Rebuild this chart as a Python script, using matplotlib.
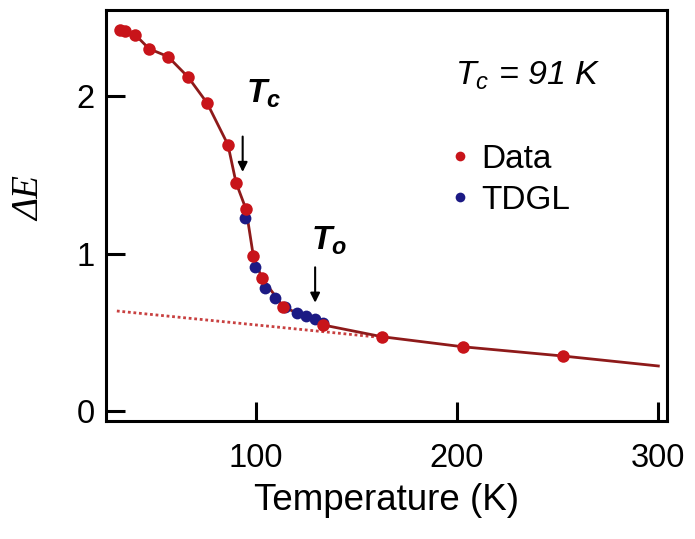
import matplotlib
matplotlib.use("Agg")
import matplotlib.pyplot as plt
from matplotlib.lines import Line2D

plt.rcParams['font.family'] = ['Liberation Sans', 'DejaVu Sans']
plt.rcParams['mathtext.fontset'] = 'custom'
plt.rcParams['mathtext.it'] = 'Liberation Sans:italic'
plt.rcParams['mathtext.bf'] = 'Liberation Sans:italic:bold'
plt.rcParams['mathtext.rm'] = 'Liberation Sans'

# measured gap values (red) and TDGL fit points (blue)
data_T = [32.6, 35.1, 40.0, 47.0, 56.4, 66.4, 75.8, 86.2, 90.2, 95.2,
          98.8, 103.0, 113.7, 133.6, 162.6, 202.8, 252.8]
data_E = [2.42, 2.41, 2.39, 2.30, 2.25, 2.12, 1.956, 1.69, 1.45, 1.28,
          0.984, 0.845, 0.662, 0.546, 0.472, 0.408, 0.349]

tdgl_T = [94.7, 99.7, 104.6, 109.6, 114.6, 120.4, 125.0, 129.5, 133.4]
tdgl_E = [1.223, 0.916, 0.779, 0.716, 0.662, 0.620, 0.603, 0.582, 0.561]

# guide line through the data, running on to 300 K
line_T = data_T + [300.0]
line_E = data_E + [0.286]

# linear background extrapolated to low T
bg_T = [31.0, 160.0]
bg_E = [0.635, 0.470]

Tc = 91
Tc_arrow = 93.5
To_arrow = 129.5

fig = plt.figure(figsize=(6.95, 5.39), dpi=100)
ax = fig.add_axes([0.1525, 0.219, 0.8072, 0.7625])

ax.plot(bg_T, bg_E, linestyle=(0, (1, 1)), color='#c84040', lw=2, zorder=1)
ax.plot(line_T, line_E, color='#8e1a1a', lw=2, zorder=2)
ax.plot(tdgl_T, tdgl_E, 'o', color='#1c1a84', ms=8.5, mec='none', zorder=3)
ax.plot(data_T, data_E, 'o', color='#c8141a', ms=9, mec='none', zorder=4)

ax.set_xlim(25.6, 304.3)
ax.set_ylim(-0.063, 2.546)
ax.set_xticks([100, 200, 300])
ax.set_yticks([0, 1, 2])

for s in ax.spines.values():
    s.set_linewidth(2.2)
ax.tick_params(direction='in', length=14, width=2.2, labelsize=23.5)
ax.tick_params(axis='x', pad=16)
ax.tick_params(axis='y', pad=8)

ax.set_xlabel('Temperature (K)', fontsize=26.5, labelpad=6)
ax.set_ylabel('ΔE', fontsize=27, family='Liberation Serif', style='italic')
ax.yaxis.set_label_coords(-0.104, 0.54)

# annotations
ax.annotate('', xy=(Tc_arrow, 1.50), xytext=(Tc_arrow, 1.76),
            arrowprops=dict(arrowstyle='-|>', color='black', lw=1.5, mutation_scale=14))
ax.text(Tc_arrow + 1.5, 1.955, r'$\mathbf{T}_\mathbf{c}$', fontsize=24, ha='left', va='baseline')

ax.annotate('', xy=(To_arrow, 0.67), xytext=(To_arrow, 0.93),
            arrowprops=dict(arrowstyle='-|>', color='black', lw=1.5, mutation_scale=14))
ax.text(To_arrow - 2, 1.025, r'$\mathbf{T}_\mathbf{o}$', fontsize=24, ha='left', va='baseline')

ax.text(0.622, 0.818, r'$\mathit{T}_\mathit{c}$ = %d K' % Tc, transform=ax.transAxes,
        fontsize=24.5, style='italic', ha='left', va='baseline')

handles = [Line2D([], [], ls='none', marker='o', color='#c8141a', ms=7, mec='none'),
           Line2D([], [], ls='none', marker='o', color='#1c1a84', ms=7, mec='none')]
ax.legend(handles, ['Data', 'TDGL'], loc='upper left', bbox_to_anchor=(0.613, 0.675),
          frameon=False, fontsize=24, handlelength=0.6, handletextpad=0.35,
          labelspacing=0.3, borderpad=0, borderaxespad=0)

fig.savefig('out.png', dpi=100)
